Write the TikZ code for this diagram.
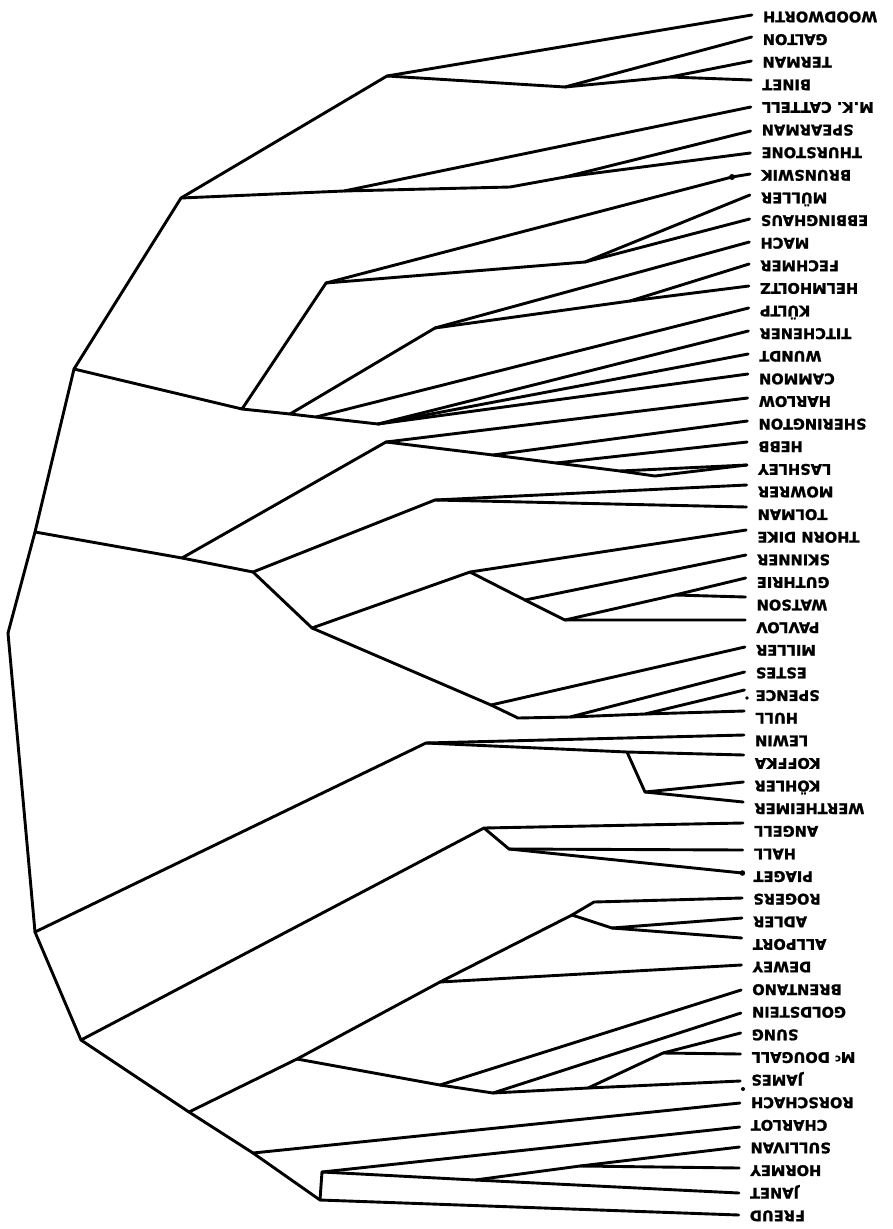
\documentclass[tikz,border=0pt]{standalone}
\usepackage{fontspec}
\newfontfamily\lblfont{DejaVu Sans Bold}[FakeBold=1.3]
\begin{document}
\begin{tikzpicture}[x=1pt,y=-1pt]
\tikzset{
  br/.style={line width=2.9pt, line cap=round, line join=round, black},
  lab/.style={rotate=180, anchor=east, inner sep=0pt, text height=10.6pt, text depth=0pt,
              font=\lblfont\fontsize{14.6}{14.6}\selectfont},
  speck/.style={fill=black, draw=none}
}
\useasboundingbox (0,0) rectangle (893,1229);
\fill[white] (0,0) rectangle (893,1229);
\newcommand\leaf[4]{%
  \pgfmathsetmacro\lx{752-0.011*#2}%
  \pgfmathsetmacro\ly{17+22.62*(#3-1)}%
  \coordinate (#1) at (\lx,#2);
  \node[lab] (#1-t) at (\lx+11,\ly) {#4};
}
% leaves
\leaf{woodworth}{15}{1}{WOODWORTH}
\leaf{galton}{37}{2}{GALTON}
\leaf{terman}{61}{3}{TERMAN}
\leaf{binet}{80}{4}{BINET}
\leaf{cattell}{107}{5}{M.K. CATTELL}
\leaf{spearman}{131}{6}{SPEARMAN}
\leaf{thurstone}{153}{7}{THURSTONE}
\leaf{brunswik}{174}{8}{BRUNSWIK}
\leaf{muller}{195}{9}{MÜLLER}
\leaf{ebbinghaus}{219}{10}{EBBINGHAUS}
\leaf{mach}{242}{11}{MACH}
\leaf{fechmer}{264}{12}{FECHMER}
\leaf{helmholtz}{286}{13}{HELMHOLTZ}
\leaf{kultp}{308}{14}{KÜLTP}
\leaf{titchener}{331}{15}{TITCHENER}
\leaf{wundt}{354}{16}{WUNDT}
\leaf{cammon}{374}{17}{CAMMON}
\leaf{harlow}{398}{18}{HARLOW}
\leaf{sherington}{421}{19}{SHERINGTON}
\leaf{hebb}{442}{20}{HEBB}
\leaf{lashley}{465}{21}{LASHLEY}
\leaf{mowrer}{485}{22}{MOWRER}
\leaf{tolman}{507}{23}{TOLMAN}
\leaf{thorndike}{530}{24}{THORN DIKE}
\leaf{skinner}{555}{25}{SKINNER}
\leaf{guthrie}{578}{26}{GUTHRIE}
\leaf{watson}{597}{27}{WATSON}
\leaf{pavlov}{620}{28}{PAVLOV}
\leaf{miller}{647}{29}{MILLER}
\leaf{estes}{672}{30}{ESTES}
\leaf{spence}{690}{31}{SPENCE}
\leaf{hull}{711}{32}{HULL}
\leaf{lewin}{735}{33}{LEWIN}
\leaf{koffka}{755}{34}{KOFFKA}
\leaf{kohler}{782}{35}{KÖHLER}
\leaf{wertheimer}{802}{36}{WERTHEIMER}
\leaf{angell}{823}{37}{ANGELL}
\leaf{hall}{850}{38}{HALL}
\leaf{piaget}{873}{39}{PIAGET}
\leaf{rogers}{898}{40}{ROGERS}
\leaf{adler}{918}{41}{ADLER}
\leaf{allport}{938}{42}{ALLPORT}
\leaf{dewey}{965}{43}{DEWEY}
\leaf{brentano}{990}{44}{BRENTANO}
\leaf{goldstein}{1013}{45}{GOLDSTEIN}
\leaf{sung}{1033}{46}{SUNG}
\leaf{mcdougall}{1054}{47}{M\raisebox{0.45ex}{\fontsize{10}{10}\selectfont c} DOUGALL}
\leaf{james}{1081}{48}{JAMES}
\leaf{rorschach}{1103}{49}{RORSCHACH}
\leaf{charlot}{1127}{50}{CHARLOT}
\leaf{sullivan}{1147}{51}{SULLIVAN}
\leaf{hormey}{1168}{52}{HORMEY}
\leaf{janet}{1193}{53}{JANET}
\leaf{freud}{1215}{54}{FREUD}
% internal nodes
\coordinate (R) at (8,633);
\coordinate (u0) at (35,532);
\coordinate (u1) at (74,369);
\coordinate (b0) at (181,198);
\coordinate (a0) at (387,76);
\coordinate (a1) at (565,87);
\coordinate (a2) at (670,77);
\coordinate (b1) at (344,191);
\coordinate (bb) at (510,187);
\coordinate (b2) at (565,177);
\coordinate (c0) at (242,409);
\coordinate (c1) at (290,414);
\coordinate (c1b) at (316,417);
\coordinate (c2) at (378,424);
\coordinate (c3) at (326,283);
\coordinate (cB) at (732,177);
\coordinate (c5) at (585,262);
\coordinate (c4) at (435,328);
\coordinate (c6) at (630,301);
\coordinate (m0) at (182,558);
\coordinate (m1) at (253,572);
\coordinate (d0) at (386,442);
\coordinate (d1) at (493,455);
\coordinate (d2) at (556,463);
\coordinate (d3) at (620,471);
\coordinate (d4) at (655,476);
\coordinate (e0) at (435,500);
\coordinate (m2) at (312,628);
\coordinate (f0) at (470,572);
\coordinate (f1) at (525,600);
\coordinate (f2) at (565,620);
\coordinate (f3) at (675,595);
\coordinate (g0) at (491,705);
\coordinate (g1) at (518,718);
\coordinate (g2) at (570,717);
\coordinate (g3) at (645,714);
\coordinate (l0) at (35,932);
\coordinate (h0) at (426,743);
\coordinate (h2) at (627,752);
\coordinate (h1) at (645,792);
\coordinate (l1) at (81,1040);
\coordinate (i0) at (484,828);
\coordinate (i1) at (509,849);
\coordinate (l2) at (189,1112);
\coordinate (jb) at (297,1059);
\coordinate (j0) at (440,982);
\coordinate (j1) at (572,915);
\coordinate (jr) at (594,902);
\coordinate (j3) at (612,928);
\coordinate (k0) at (440,1085);
\coordinate (k1) at (493,1093);
\coordinate (kj) at (588,1088);
\coordinate (k3) at (663,1053);
\coordinate (l3) at (253,1153);
\coordinate (l4) at (320,1200);
\coordinate (l5) at (322,1172);
\coordinate (kn) at (475,1180);
\coordinate (k4) at (580,1166);
% connectors
\draw[br] (R) -- (u0) -- (u1) -- (b0) -- (a0) -- (woodworth);
\draw[br] (a0) -- (a1) -- (galton);
\draw[br] (a1) -- (a2) -- (terman);
\draw[br] (a2) -- (binet);
\draw[br] (b0) -- (b1) -- (cattell);
\draw[br] (b1) -- (bb) -- (b2) -- (spearman);
\draw[br] (b2) -- (thurstone);
\draw[br] (u1) -- (c0) -- (c1) -- (c1b) -- (c2) -- (titchener);
\draw[br] (c2) -- (wundt);
\draw[br] (c2) -- (cammon);
\draw[br] (c1b) -- (kultp);
\draw[br] (c0) -- (c3) -- (cB) -- (brunswik);
\draw[br] (c3) -- (c5) -- (muller);
\draw[br] (c5) -- (ebbinghaus);
\draw[br] (c1) -- (c4) -- (mach);
\draw[br] (c4) -- (c6) -- (fechmer);
\draw[br] (c6) -- (helmholtz);
\draw[br] (u0) -- (m0) -- (m1) -- (m2);
\draw[br] (m0) -- (d0) -- (harlow);
\draw[br] (d0) -- (d1) -- (d2) -- (d3) -- (d4) -- (lashley);
\draw[br] (d1) -- (sherington);
\draw[br] (d2) -- (hebb);
\draw[br] (d3) -- (lashley);
\draw[br] (m1) -- (e0) -- (mowrer);
\draw[br] (e0) -- (tolman);
\draw[br] (m2) -- (f0) -- (thorndike);
\draw[br] (f0) -- (f1) -- (skinner);
\draw[br] (f1) -- (f2) -- (pavlov);
\draw[br] (f2) -- (f3) -- (guthrie);
\draw[br] (f3) -- (watson);
\draw[br] (m2) -- (g0) -- (miller);
\draw[br] (g0) -- (g1) -- (g2) -- (estes);
\draw[br] (g2) -- (g3) -- (spence);
\draw[br] (g3) -- (hull);
\draw[br] (R) -- (l0) -- (l1) -- (l2) -- (l3) -- (l4) -- (freud);
\draw[br] (l0) -- (h0) -- (lewin);
\draw[br] (h0) -- (h2) -- (koffka);
\draw[br] (h2) -- (h1) -- (kohler);
\draw[br] (h1) -- (wertheimer);
\draw[br] (l1) -- (i0) -- (angell);
\draw[br] (i0) -- (i1) -- (hall);
\draw[br] (i1) -- (piaget);
\draw[br] (l2) -- (jb) -- (j0) -- (dewey);
\draw[br] (j0) -- (j1) -- (jr) -- (rogers);
\draw[br] (j1) -- (j3) -- (adler);
\draw[br] (j3) -- (allport);
\draw[br] (jb) -- (k0) -- (brentano);
\draw[br] (k0) -- (k1) -- (goldstein);
\draw[br] (k1) -- (kj) -- (james);
\draw[br] (kj) -- (k3) -- (sung);
\draw[br] (k3) -- (mcdougall);
\draw[br] (l3) -- (rorschach);
\draw[br] (l4) -- (l5) -- (charlot);
\draw[br] (l5) -- (kn) -- (janet);
\draw[br] (kn) -- (k4) -- (sullivan);
\draw[br] (k4) -- (hormey);
% dots
\fill[speck] (cB) circle (3);
\fill[speck] (piaget) circle (2.8);
\coordinate (sp) at (747,698);
\coordinate (jm) at (743,1089);
\fill[speck] (sp) circle (1.8);
\fill[speck] (jm) circle (2);
\end{tikzpicture}
\end{document}
